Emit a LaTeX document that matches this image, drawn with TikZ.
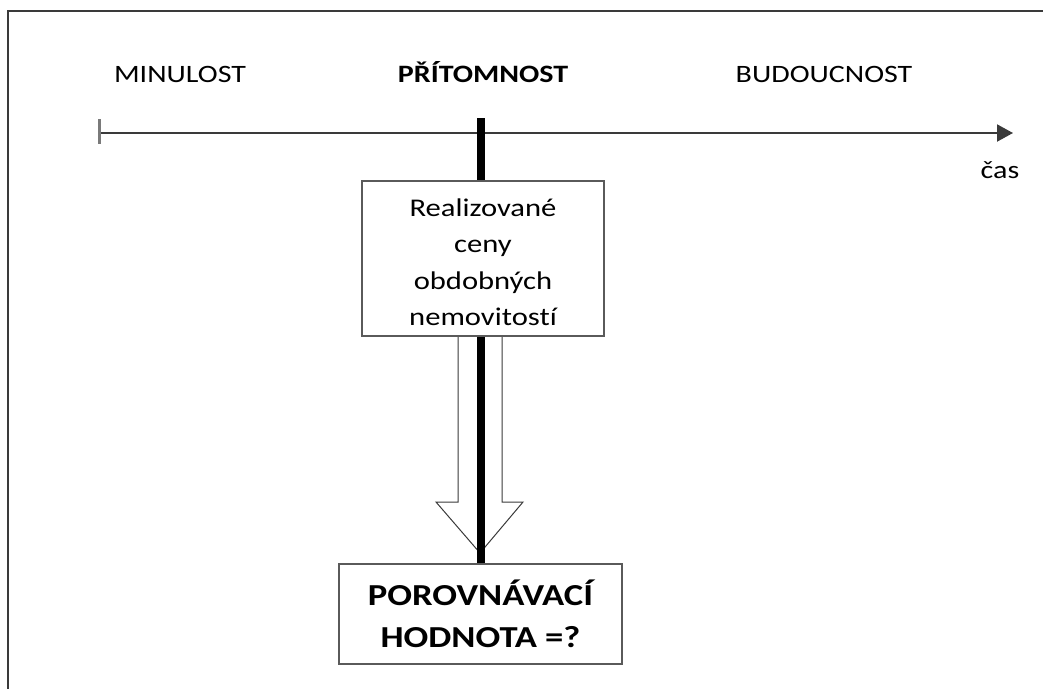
\documentclass[tikz,border=0pt]{standalone}
\usepackage{fontspec}
\setmainfont{Carlito}[FakeStretch=1.2, Ligatures=NoCommon]
\usetikzlibrary{arrows.meta}
\definecolor{linegray}{HTML}{3A3A3A}
\definecolor{boxgray}{HTML}{5A5A5A}
\definecolor{tickgray}{HTML}{7A7A7A}
\tikzset{
  period/.style={anchor=base, font=\fontsize{25}{30}\selectfont},
  infobox/.style={draw=boxgray, line width=1.5pt, fill=white, align=center, inner sep=0pt,
    font=\fontsize{25.5}{36.5}\selectfont},
  resultbox/.style={draw=boxgray, line width=1.5pt, fill=white, align=center, inner sep=0pt,
    font=\bfseries\fontsize{30.5}{42}\selectfont},
  present/.style={line width=8pt, black},
  hollowarrow/.style={draw=linegray, line width=1pt, fill=white, line join=miter}
}
\begin{document}
\begin{tikzpicture}[x=1pt, y=-1pt]
\useasboundingbox (0,0) rectangle (1043,688);
\clip (0,0) rectangle (1043,688);
% outer frame
\draw[line width=2.2pt, linegray] (8,11) rectangle (1080,720);
% time axis
\coordinate (tstart) at (99,133);
\coordinate (tend) at (1013,133);
\draw[line width=2pt, linegray, -{Triangle[length=16pt, width=17pt]}] (tstart) -- (tend);
\draw[line width=3pt, tickgray] (99,119) -- (99,144);
% period labels
\node[period] (past) at (180,82) {MINULOST};
\node[period, font=\bfseries\fontsize{25}{30}\selectfont] (now) at (483,82) {PŘÍTOMNOST};
\node[period] (future) at (824,82) {BUDOUCNOST};
\node[period] (cas) at (1000,178) {čas};
% boxes (positions)
\coordinate (ptop) at (481,118);
% hollow arrow
\draw[hollowarrow] (458,336) -- (458,502) -- (436,502) -- (480,553) -- (523,502) -- (502,502) -- (502,336);
% result box
\node[resultbox, minimum width=283pt, minimum height=100pt] (result) at (480.5,614)
  {POROVNÁVACÍ\\HODNOTA =?};
% present line
\draw[present] (ptop) -- (result.north -| ptop);
% info box
\node[infobox, minimum width=242pt, minimum height=155pt] (info) at (483,258.5)
  {\rule{0pt}{25pt}Realizované\\ceny\\obdobných\\nemovitostí};
\end{tikzpicture}
\end{document}
